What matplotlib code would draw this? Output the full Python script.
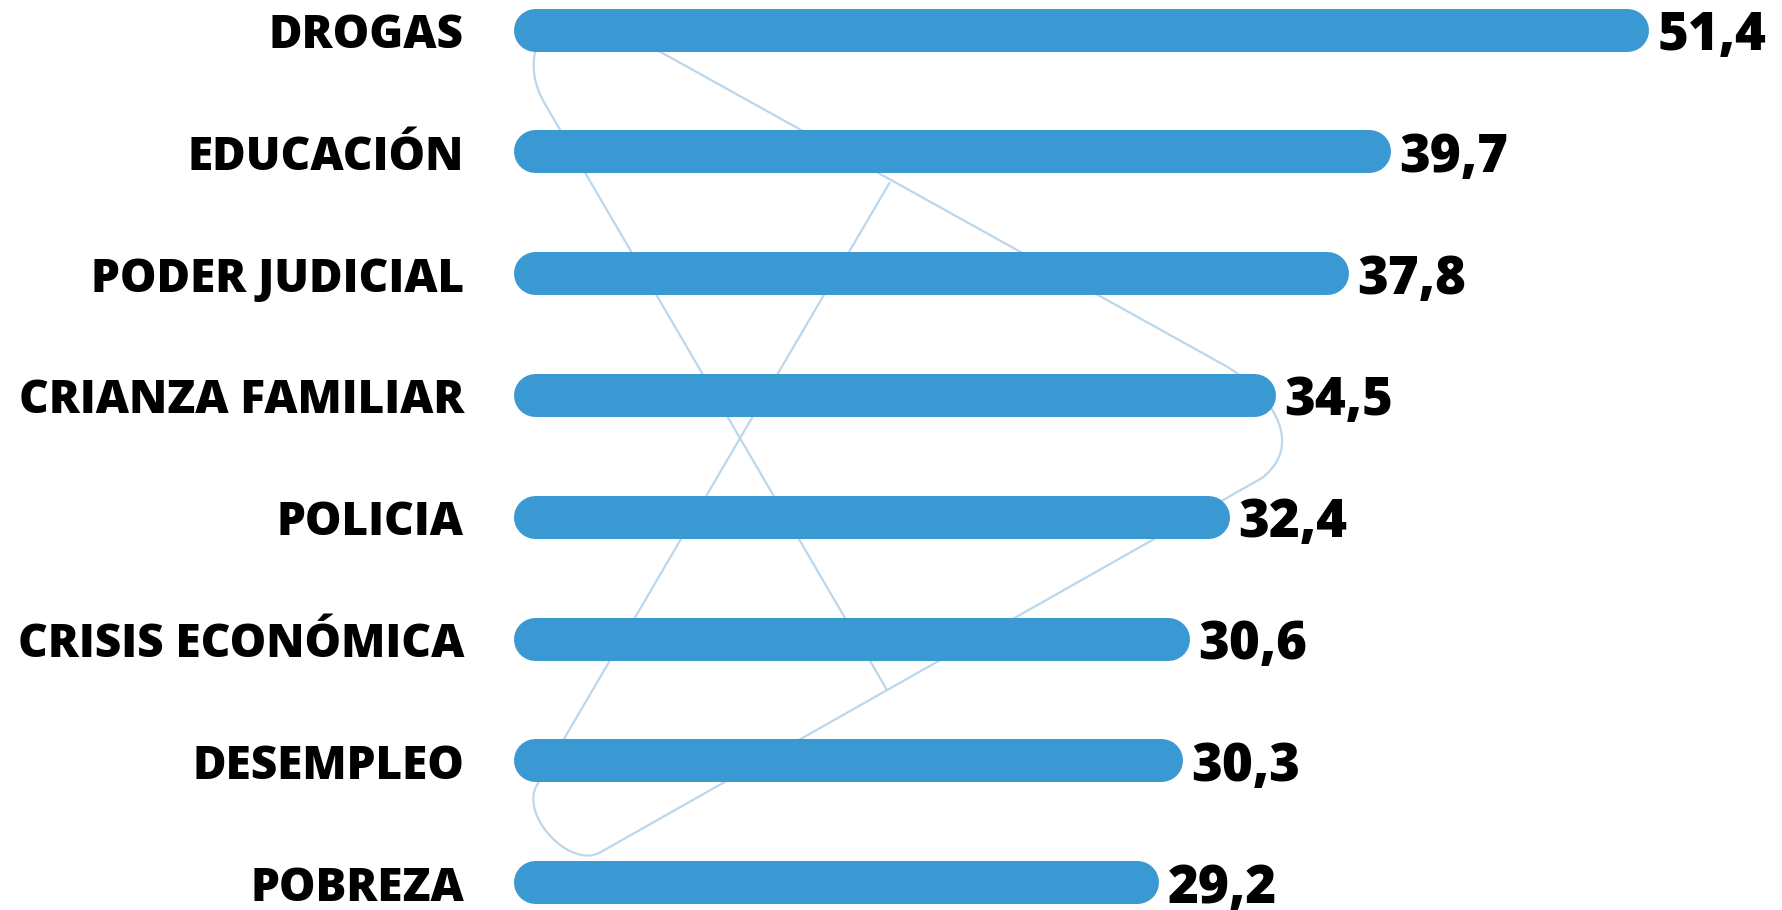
import matplotlib
matplotlib.use("Agg")
import matplotlib.pyplot as plt
from matplotlib.path import Path
from matplotlib.patches import PathPatch

categories = ["DROGAS", "EDUCACIÓN", "PODER JUDICIAL", "CRIANZA FAMILIAR",
              "POLICIA", "CRISIS ECONÓMICA", "DESEMPLEO", "POBREZA"]
values = [51.4, 39.7, 37.8, 34.5, 32.4, 30.6, 30.3, 29.2]
value_labels = ["51,4", "39,7", "37,8", "34,5", "32,4", "30,6", "30,3", "29,2"]

W, H, DPI = 1783, 910, 100
BAR_COLOR = "#3A98D3"
LINE_COLOR = "#BBD7EC"
FONT = ["Open Sans", "DejaVu Sans"]

fig = plt.figure(figsize=(W / DPI, H / DPI), dpi=DPI)
fig.patch.set_facecolor("white")

x0_px = 513.0          # pixel where value 0 sits
px_per_unit = 22.1
y0_px, dy_px = 29.5, 121.8
bar_px = 43.0

ax = fig.add_axes([x0_px / W, 0, (W - x0_px) / W, 1])
ax.set_xlim(0, (W - x0_px) / px_per_unit)
ax.set_ylim((H - y0_px) / dy_px, -y0_px / dy_px)
ax.axis("off")
ax.patch.set_visible(False)

# decorative thin loop behind the bars (pixel coords, y down)
def fp(x, y):
    return (x / W, 1 - y / H)

M, L, C4 = Path.MOVETO, Path.LINETO, Path.CURVE4
verts1 = [fp(621, 30), fp(1224, 365),
          fp(1262, 386), fp(1310, 440), fp(1262, 478),
          fp(600, 852.5),
          fp(569.5, 869), fp(519.3, 815), fp(537, 785),
          fp(890, 182)]
codes1 = [M, L, C4, C4, C4, L, C4, C4, C4, L]
verts2 = [fp(552, 18), fp(530, 45), fp(528, 75), fp(545, 104), fp(887, 690)]
codes2 = [M, C4, C4, C4, L]
for v, c in ((verts1, codes1), (verts2, codes2)):
    pp = PathPatch(Path(v, c), transform=fig.transFigure, fill=False,
                   edgecolor=LINE_COLOR, linewidth=1.6, zorder=1, clip_on=False)
    ax.add_patch(pp)

r = (bar_px / 2) / px_per_unit
lw_pt = bar_px * 72 / DPI
for i, (cat, val, lab) in enumerate(zip(categories, values, value_labels)):
    ax.plot([r, val - r], [i, i], color=BAR_COLOR, linewidth=lw_pt,
            solid_capstyle="round", zorder=3)
    ax.annotate(cat, xy=(0, i), xytext=(-49 * 72 / DPI, -18.5 * 72 / DPI),
                textcoords="offset points", ha="right", va="baseline",
                fontsize=33, fontweight="heavy", family=FONT, color="black",
                annotation_clip=False)
    ax.annotate(lab, xy=(val, i), xytext=(9 * 72 / DPI, -20.5 * 72 / DPI),
                textcoords="offset points", ha="left", va="baseline",
                fontsize=38, fontweight="heavy", family=FONT, color="black",
                annotation_clip=False)

fig.savefig("out.png", dpi=DPI, facecolor="white")
